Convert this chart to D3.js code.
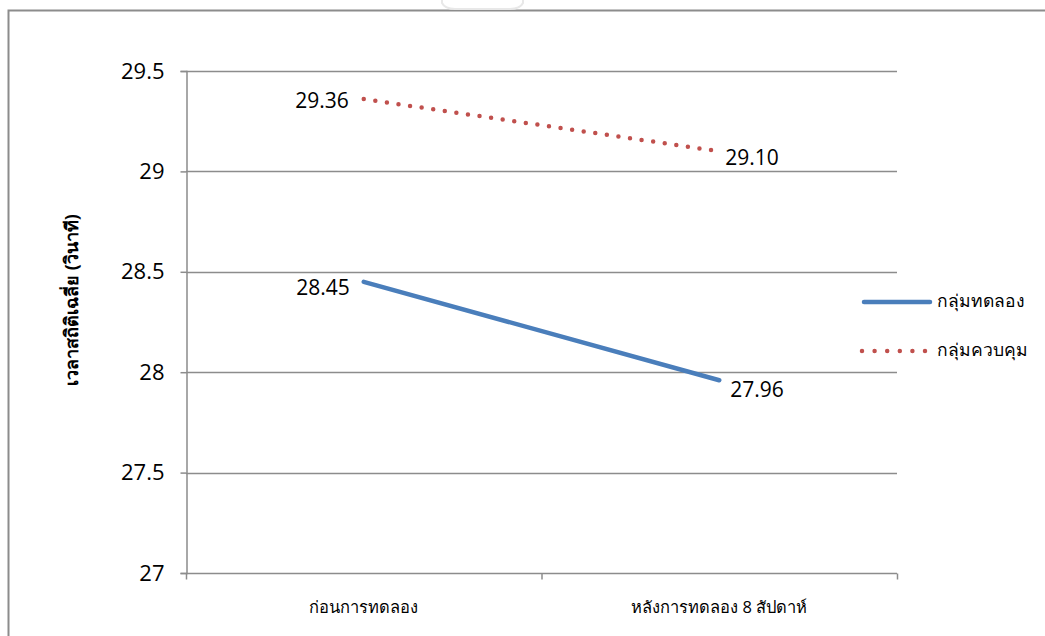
<!DOCTYPE html>
<html>
<head>
<meta charset="utf-8">
<script src="https://cdn.jsdelivr.net/npm/d3@7"></script>
<style>
  html, body { margin: 0; padding: 0; background: #fff; }
  svg { display: block; }
  text { font-family: "Open Sans", "Noto Sans", "Liberation Sans", sans-serif; fill: #000; }
</style>
</head>
<body>
<svg id="chart" width="1045" height="636"></svg>
<script>
// Mean time per group, before and after the 8-week programme
const categories = ["ก่อนการทดลอง", "หลังการทดลอง 8 สัปดาห์"];
const experimentalValues = [28.45, 27.96];
const controlValues = [29.36, 29.10];
const seriesNames = ["กลุ่มทดลอง", "กลุ่มควบคุม"];
const yTicks = [27, 27.5, 28, 28.5, 29, 29.5];
const yTitle = "เวลาสถิติเฉลี่ย (วินาที)";

const svg = d3.select("#chart");
const plotLeft = 186, plotRight = 897, plotTop = 71, plotBottom = 573;

const x = d3.scaleBand().domain(categories).range([plotLeft, plotRight]).padding(0);
const y = d3.scaleLinear().domain([27, 29.5]).range([plotBottom, plotTop]);

// outer frame
svg.append("path")
  .attr("d", "M8.5,636 L8.5,10.5 L1045,10.5")
  .attr("fill", "none").attr("stroke", "#8c8c8c").attr("stroke-width", 2);

// faint emblem at the top edge
svg.append("path")
  .attr("d", "M442,0 L442,3 Q445,9 455,9 L510,9 Q520,9 523,3 L523,0")
  .attr("fill", "none").attr("stroke", "#e8e8e8").attr("stroke-width", 2);

// horizontal gridlines
svg.append("g").selectAll("line")
  .data(yTicks.filter(d => d !== 27))
  .join("line")
  .attr("x1", plotLeft).attr("x2", plotRight)
  .attr("y1", d => Math.round(y(d)) + 0.5).attr("y2", d => Math.round(y(d)) + 0.5)
  .attr("stroke", "#8c8c8c").attr("stroke-width", 1.3);

// y axis
const yAxis = d3.axisLeft(y).tickValues(yTicks).tickSize(6).tickPadding(16)
  .tickFormat(d => String(d));
const gy = svg.append("g").attr("transform", `translate(${plotLeft + 0.5},0)`).call(yAxis);
gy.select(".domain").attr("stroke", "#8c8c8c").attr("stroke-width", 1.5);
gy.selectAll(".tick line").attr("stroke", "#8c8c8c").attr("stroke-width", 1.5);
gy.selectAll(".tick text").attr("font-size", 22).attr("font-family", null).style("fill", "#000");

// x axis with ticks at category boundaries
const gx = svg.append("g").attr("transform", `translate(0,${plotBottom + 0.5})`);
gx.append("line").attr("x1", plotLeft).attr("x2", plotRight)
  .attr("stroke", "#8c8c8c").attr("stroke-width", 1.5);
const boundaries = [plotLeft, x(categories[1]), plotRight];
gx.selectAll("line.tk").data(boundaries).join("line").attr("class", "tk")
  .attr("x1", d => d + 0.5).attr("x2", d => d + 0.5).attr("y1", 0).attr("y2", 6)
  .attr("stroke", "#8c8c8c").attr("stroke-width", 1.5);
gx.selectAll("text").data(categories).join("text")
  .attr("x", d => x(d) + x.bandwidth() / 2).attr("y", 39)
  .attr("text-anchor", "middle").attr("font-size", 16.5).text(d => d);

// y axis title
svg.append("text")
  .attr("transform", `translate(78,300) rotate(-90)`)
  .attr("text-anchor", "middle").attr("font-size", 18).attr("font-weight", "bold")
  .text(yTitle);

const cx = d => x(d) + x.bandwidth() / 2;
const line = d3.line().x(d => cx(d[0])).y(d => y(d[1]));

// control group: dotted red
svg.append("path")
  .datum(categories.map((c, i) => [c, controlValues[i]]))
  .attr("d", line).attr("fill", "none")
  .attr("stroke", "#c0504d").attr("stroke-width", 4.5)
  .attr("stroke-linecap", "round").attr("stroke-dasharray", "0 11.7");

// experimental group: solid blue
svg.append("path")
  .datum(categories.map((c, i) => [c, experimentalValues[i]]))
  .attr("d", line).attr("fill", "none")
  .attr("stroke", "#4a7ebb").attr("stroke-width", 4.5)
  .attr("stroke-linecap", "round");

// data labels
function labels(values, offsets) {
  svg.append("g").selectAll("text").data(values).join("text")
    .attr("x", (d, i) => cx(categories[i]) + offsets[i][0])
    .attr("y", (d, i) => y(d) + offsets[i][1])
    .attr("text-anchor", (d, i) => i === 0 ? "end" : "start")
    .attr("dominant-baseline", "middle")
    .attr("font-size", 21)
    .text(d => d.toFixed(2));
}
labels(controlValues, [[-15, 3], [6, 8]]);
labels(experimentalValues, [[-14, 8], [11, 11]]);

// legend
const lg = svg.append("g");
lg.append("line").attr("x1", 864).attr("x2", 930).attr("y1", 302).attr("y2", 302)
  .attr("stroke", "#4a7ebb").attr("stroke-width", 4.5).attr("stroke-linecap", "round");
lg.append("line").attr("x1", 862).attr("x2", 926).attr("y1", 351).attr("y2", 351)
  .attr("stroke", "#c0504d").attr("stroke-width", 4.5)
  .attr("stroke-linecap", "round").attr("stroke-dasharray", "0 12.6");
lg.selectAll("text").data(seriesNames).join("text")
  .attr("x", 937).attr("y", (d, i) => 302 + i * 49)
  .attr("dominant-baseline", "middle").attr("font-size", 17.5)
  .text(d => d);
</script>
</body>
</html>
